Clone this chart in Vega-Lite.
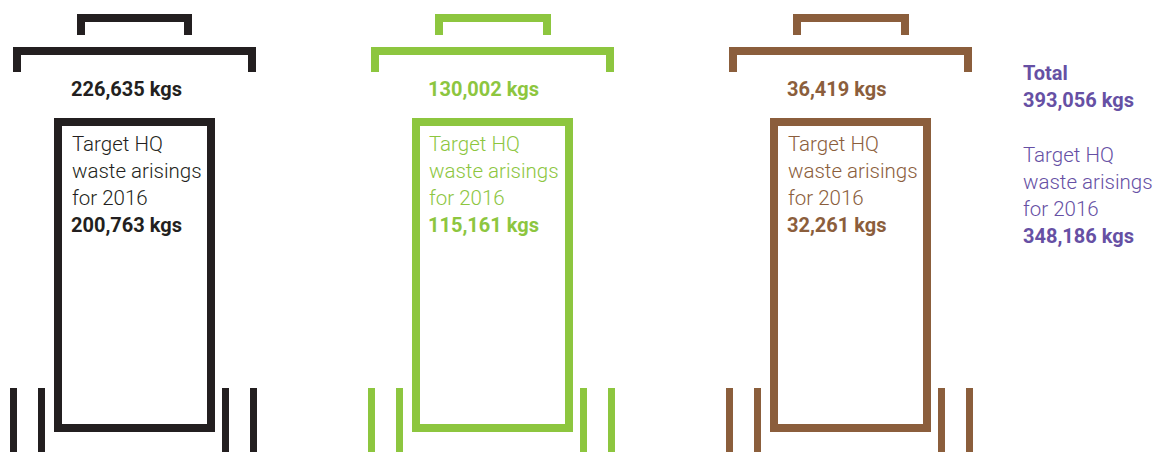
{"$schema":"https://vega.github.io/schema/vega-lite/v6.json","width":1165,"height":452,"autosize":{"type":"fit","contains":"padding"},"padding":0,"background":"white","view":{"stroke":null},
"datasets":{"parts":[
{"bin":"General","part":"handle top","x":77,"x2":192,"y":14,"y2":22},{"bin":"General","part":"handle left","x":77,"x2":85,"y":14,"y2":35},{"bin":"General","part":"handle right","x":184,"x2":192,"y":14,"y2":35},
{"bin":"General","part":"lid top","x":13,"x2":256,"y":47,"y2":55},{"bin":"General","part":"lid left","x":13,"x2":21,"y":47,"y2":72},{"bin":"General","part":"lid right","x":248,"x2":256,"y":47,"y2":72},
{"bin":"General","part":"body top","x":54,"x2":215,"y":118,"y2":126},{"bin":"General","part":"body bottom","x":54,"x2":215,"y":424,"y2":432},{"bin":"General","part":"body left","x":54,"x2":62,"y":118,"y2":432},{"bin":"General","part":"body right","x":207,"x2":215,"y":118,"y2":432},
{"bin":"General","part":"wheel 1","x":10,"x2":17,"y":388,"y2":452},{"bin":"General","part":"wheel 2","x":38,"x2":45,"y":388,"y2":452},{"bin":"General","part":"wheel 3","x":222,"x2":229,"y":388,"y2":452},{"bin":"General","part":"wheel 4","x":250,"x2":257,"y":388,"y2":452},
{"bin":"Recycling","part":"handle top","x":435,"x2":551,"y":14,"y2":22},{"bin":"Recycling","part":"handle left","x":435,"x2":443,"y":14,"y2":35},{"bin":"Recycling","part":"handle right","x":543,"x2":551,"y":14,"y2":35},
{"bin":"Recycling","part":"lid top","x":371,"x2":614,"y":47,"y2":55},{"bin":"Recycling","part":"lid left","x":371,"x2":379,"y":47,"y2":72},{"bin":"Recycling","part":"lid right","x":606,"x2":614,"y":47,"y2":72},
{"bin":"Recycling","part":"body top","x":412,"x2":573,"y":118,"y2":126},{"bin":"Recycling","part":"body bottom","x":412,"x2":573,"y":424,"y2":432},{"bin":"Recycling","part":"body left","x":412,"x2":420,"y":118,"y2":432},{"bin":"Recycling","part":"body right","x":565,"x2":573,"y":118,"y2":432},
{"bin":"Recycling","part":"wheel 1","x":368,"x2":375,"y":388,"y2":452},{"bin":"Recycling","part":"wheel 2","x":396,"x2":403,"y":388,"y2":452},{"bin":"Recycling","part":"wheel 3","x":580,"x2":587,"y":388,"y2":452},{"bin":"Recycling","part":"wheel 4","x":608,"x2":615,"y":388,"y2":452},
{"bin":"Other","part":"handle top","x":793,"x2":909,"y":14,"y2":22},{"bin":"Other","part":"handle left","x":793,"x2":801,"y":14,"y2":35},{"bin":"Other","part":"handle right","x":901,"x2":909,"y":14,"y2":35},
{"bin":"Other","part":"lid top","x":729,"x2":972,"y":47,"y2":55},{"bin":"Other","part":"lid left","x":729,"x2":737,"y":47,"y2":72},{"bin":"Other","part":"lid right","x":964,"x2":972,"y":47,"y2":72},
{"bin":"Other","part":"body top","x":770,"x2":931,"y":118,"y2":126},{"bin":"Other","part":"body bottom","x":770,"x2":931,"y":424,"y2":432},{"bin":"Other","part":"body left","x":770,"x2":778,"y":118,"y2":432},{"bin":"Other","part":"body right","x":923,"x2":931,"y":118,"y2":432},
{"bin":"Other","part":"wheel 1","x":726,"x2":733,"y":388,"y2":452},{"bin":"Other","part":"wheel 2","x":754,"x2":761,"y":388,"y2":452},{"bin":"Other","part":"wheel 3","x":938,"x2":945,"y":388,"y2":452},{"bin":"Other","part":"wheel 4","x":966,"x2":973,"y":388,"y2":452}
],
"labels":[
{"bin":"General","text":"226,635 kgs","x":71,"y":96,"heavy":"yes"},{"bin":"General","text":"Target HQ","x":72,"y":151,"heavy":"no"},{"bin":"General","text":"waste arisings","x":72,"y":178,"heavy":"no"},{"bin":"General","text":"for 2016","x":72,"y":205,"heavy":"no"},{"bin":"General","text":"200,763 kgs","x":71,"y":232,"heavy":"yes"},
{"bin":"Recycling","text":"130,002 kgs","x":428,"y":96,"heavy":"yes"},{"bin":"Recycling","text":"Target HQ","x":429,"y":151,"heavy":"no"},{"bin":"Recycling","text":"waste arisings","x":429,"y":178,"heavy":"no"},{"bin":"Recycling","text":"for 2016","x":429,"y":205,"heavy":"no"},{"bin":"Recycling","text":"115,161 kgs","x":428,"y":232,"heavy":"yes"},
{"bin":"Other","text":"36,419 kgs","x":787,"y":96,"heavy":"yes"},{"bin":"Other","text":"Target HQ","x":788,"y":151,"heavy":"no"},{"bin":"Other","text":"waste arisings","x":788,"y":178,"heavy":"no"},{"bin":"Other","text":"for 2016","x":788,"y":205,"heavy":"no"},{"bin":"Other","text":"32,261 kgs","x":787,"y":232,"heavy":"yes"},
{"bin":"Total","text":"Total","x":1023,"y":80,"heavy":"yes"},{"bin":"Total","text":"393,056 kgs","x":1023,"y":107,"heavy":"yes"},{"bin":"Total","text":"Target HQ","x":1023,"y":162,"heavy":"no"},{"bin":"Total","text":"waste arisings","x":1023,"y":189,"heavy":"no"},{"bin":"Total","text":"for 2016","x":1023,"y":216,"heavy":"no"},{"bin":"Total","text":"348,186 kgs","x":1023,"y":243,"heavy":"yes"}
]},
"layer":[
{"data":{"name":"parts"},"mark":{"type":"rect"},"encoding":{
"x":{"field":"x","type":"quantitative","scale":{"domain":[0,1165],"nice":false,"zero":false},"axis":null},"x2":{"field":"x2"},
"y":{"field":"y","type":"quantitative","scale":{"domain":[0,452],"reverse":true,"nice":false,"zero":false},"axis":null},"y2":{"field":"y2"},
"color":{"field":"bin","type":"nominal","scale":{"domain":["General","Recycling","Other","Total"],"range":["#231f20","#8dc63f","#8b5e3c","#6650a4"]},"legend":null}}},
{"data":{"name":"labels"},"transform":[{"filter":"datum.heavy=='no'"}],"mark":{"type":"text","align":"left","baseline":"alphabetic","font":"Roboto","fontWeight":300,"fontSize":20.5},"encoding":{
"x":{"field":"x","type":"quantitative"},"y":{"field":"y","type":"quantitative"},"text":{"field":"text"},
"color":{"field":"bin","type":"nominal","legend":null}}},
{"data":{"name":"labels"},"transform":[{"filter":"datum.heavy=='yes'"}],"mark":{"type":"text","align":"left","baseline":"alphabetic","font":"Roboto","fontWeight":700,"fontSize":20},"encoding":{
"x":{"field":"x","type":"quantitative"},"y":{"field":"y","type":"quantitative"},"text":{"field":"text"},
"color":{"field":"bin","type":"nominal","legend":null}}}
]}
